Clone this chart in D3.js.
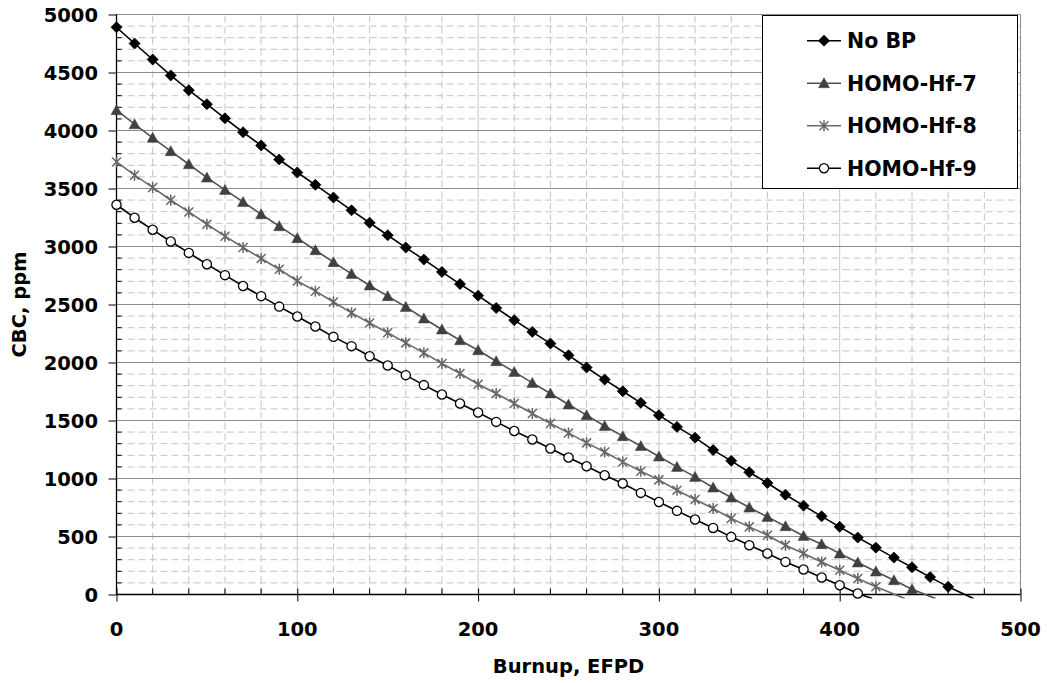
<!DOCTYPE html>
<html>
<head>
<meta charset="utf-8">
<script src="https://cdn.jsdelivr.net/npm/d3@7"></script>
<style>
  html, body { margin: 0; padding: 0; background: #ffffff; }
  svg { display: block; }
  text { font-family: "DejaVu Sans", Verdana, sans-serif; font-weight: bold; fill: #000; }
</style>
</head>
<body>
<svg id="chart" width="1047" height="683"></svg>
<script>
// Burnup steps (EFPD) at which CBC was computed
const burnup = [0, 10, 20, 30, 40, 50, 60, 70, 80, 90, 100, 110, 120, 130, 140, 150, 160, 170, 180, 190,
  200, 210, 220, 230, 240, 250, 260, 270, 280, 290, 300, 310, 320, 330, 340, 350, 360, 370, 380, 390,
  400, 410, 420, 430, 440, 450, 460];

// Critical boron concentration (ppm) for each core configuration
const noBP = [4890, 4750, 4612, 4475, 4347, 4227, 4105, 3985, 3871, 3750, 3638, 3532, 3422, 3312, 3205,
  3097, 2991, 2887, 2781, 2676, 2576, 2470, 2365, 2264, 2163, 2062, 1957, 1853, 1752, 1652, 1546, 1445,
  1352, 1245, 1152, 1054, 961, 860, 766, 674, 583, 491, 404, 318, 235, 150, 66];
const hf7 = [4175, 4054, 3937, 3822, 3709, 3594, 3488, 3384, 3278, 3175, 3072, 2968, 2865, 2764, 2664,
  2572, 2479, 2379, 2284, 2192, 2106, 2011, 1919, 1824, 1733, 1638, 1546, 1453, 1365, 1280, 1190, 1100,
  1014, 922, 836, 750, 669, 589, 505, 434, 353, 276, 198, 123, 46];
const hf8 = [3729, 3615, 3509, 3399, 3298, 3192, 3089, 2991, 2897, 2804, 2703, 2615, 2522, 2428, 2341,
  2257, 2169, 2083, 1991, 1905, 1813, 1733, 1647, 1560, 1474, 1393, 1307, 1229, 1143, 1062, 988, 899,
  819, 741, 655, 583, 511, 425, 353, 281, 209, 138, 66];
const hf9 = [3360, 3248, 3144, 3043, 2945, 2847, 2753, 2660, 2572, 2482, 2396, 2310, 2221, 2141, 2054,
  1974, 1891, 1805, 1724, 1647, 1569, 1488, 1410, 1336, 1259, 1181, 1106, 1028, 957, 876, 798, 721,
  647, 574, 497, 425, 353, 281, 216, 147, 80, 8];

// Where each curve runs out past the zero line
const tails = [[474, -35], [453, -35], [436, -35], [418, -35]];

const seriesNames = ["No BP", "HOMO-Hf-7", "HOMO-Hf-8", "HOMO-Hf-9"];
const xTicks = [0, 100, 200, 300, 400, 500];
const yTicks = [0, 500, 1000, 1500, 2000, 2500, 3000, 3500, 4000, 4500, 5000];

const styles = [
  { line: "#000000", marker: "diamond", fill: "#000000", stroke: "#000000" },
  { line: "#505050", marker: "triangle", fill: "#404040", stroke: "#404040" },
  { line: "#6a6a6a", marker: "star", fill: "none", stroke: "#666666" },
  { line: "#000000", marker: "circle", fill: "#ffffff", stroke: "#000000" }
];
const values = [noBP, hf7, hf8, hf9];

const svg = d3.select("#chart");
const x = d3.scaleLinear().domain([0, 500]).range([116.5, 1020.5]);
const y = d3.scaleLinear().domain([0, 5000]).range([594.5, 14.5]);
const [x0, x1] = x.range();
const [y0, y1] = y.range();

// Minor grid (dashed)
const grid = svg.append("g");
grid.selectAll("line.hminor")
  .data(d3.range(100, 5000, 100).filter(v => v % 500 !== 0))
  .join("line")
  .attr("x1", x0).attr("x2", x1)
  .attr("y1", d => y(d)).attr("y2", d => y(d))
  .attr("stroke", "#c4c4c4").attr("stroke-width", 1).attr("stroke-dasharray", "7,4");
grid.selectAll("line.vminor")
  .data(d3.range(20, 500, 20).filter(v => v % 100 !== 0))
  .join("line")
  .attr("x1", d => x(d)).attr("x2", d => x(d))
  .attr("y1", y0).attr("y2", y1)
  .attr("stroke", "#c4c4c4").attr("stroke-width", 1).attr("stroke-dasharray", "7,4");
// Major grid
grid.selectAll("line.vmajor")
  .data(xTicks.slice(1))
  .join("line")
  .attr("x1", d => x(d)).attr("x2", d => x(d))
  .attr("y1", y0).attr("y2", y1)
  .attr("stroke", d => d === 500 ? "#8c8c8c" : "#c8c8c8").attr("stroke-width", 1);
grid.selectAll("line.hmajor")
  .data(yTicks.slice(1))
  .join("line")
  .attr("x1", x0).attr("x2", x1)
  .attr("y1", d => y(d)).attr("y2", d => y(d))
  .attr("stroke", "#8c8c8c").attr("stroke-width", 1);

// Axes
const xAxis = d3.axisBottom(x).tickValues(xTicks).tickSize(7).tickPadding(0);
const gx = svg.append("g").attr("transform", `translate(0,${y0})`).call(xAxis);
gx.select(".domain").remove();
gx.selectAll(".tick line").attr("y1", -6).attr("y2", 7).attr("stroke", "#000");
gx.selectAll(".tick text").remove();
gx.append("g").selectAll("line")
  .data(d3.range(20, 500, 20).filter(v => v % 100 !== 0))
  .join("line")
  .attr("x1", d => x(d)).attr("x2", d => x(d))
  .attr("y1", 0).attr("y2", -6).attr("stroke", "#000");

const yAxis = d3.axisLeft(y).tickValues(yTicks).tickSize(8).tickPadding(0);
const gy = svg.append("g").attr("transform", `translate(${x0},0)`).call(yAxis);
gy.select(".domain").remove();
gy.selectAll(".tick line").attr("x1", -8).attr("x2", 0).attr("stroke", "#000");
gy.selectAll(".tick text").remove();
gy.append("g").selectAll("line")
  .data(d3.range(100, 5000, 100).filter(v => v % 500 !== 0))
  .join("line")
  .attr("x1", 0).attr("x2", 5)
  .attr("y1", d => y(d)).attr("y2", d => y(d)).attr("stroke", "#000");

// Axis lines
svg.append("line").attr("x1", x0).attr("x2", x0).attr("y1", y1).attr("y2", y0)
  .attr("stroke", "#000").attr("stroke-width", 1.3);
svg.append("line").attr("x1", x0).attr("x2", x1).attr("y1", y0).attr("y2", y0)
  .attr("stroke", "#000").attr("stroke-width", 1.3);

// Tick labels
svg.append("g").selectAll("text")
  .data(yTicks).join("text")
  .attr("x", 98).attr("y", d => y(d)).attr("dy", "0.36em")
  .attr("text-anchor", "end").attr("font-size", 19.5)
  .text(d => d);
svg.append("g").selectAll("text")
  .data(xTicks).join("text")
  .attr("x", d => x(d)).attr("y", 636)
  .attr("text-anchor", "middle").attr("font-size", 19.5)
  .text(d => d);

// Axis titles
svg.append("text").attr("x", (x0 + x1) / 2).attr("y", 673)
  .attr("text-anchor", "middle").attr("font-size", 19.5).text("Burnup, EFPD");
svg.append("text").attr("transform", `translate(26,${(y0 + y1) / 2}) rotate(-90)`)
  .attr("text-anchor", "middle").attr("font-size", 19.5).text("CBC, ppm");

// Marker drawing
function drawMarker(sel, type, st) {
  if (type === "diamond") {
    sel.append("path").attr("d", "M0,-5.5L5.5,0L0,5.5L-5.5,0Z")
      .attr("fill", st.fill).attr("stroke", st.stroke).attr("stroke-width", 0.8);
  } else if (type === "triangle") {
    sel.append("path").attr("d", "M0,-5.5L5.5,4.5L-5.5,4.5Z")
      .attr("fill", st.fill).attr("stroke", st.stroke).attr("stroke-width", 0.5);
  } else if (type === "star") {
    sel.append("path").attr("d", "M0,-5.5V5.5M-4.5,-4.5L4.5,4.5M-4.5,4.5L4.5,-4.5")
      .attr("fill", "none").attr("stroke", st.stroke).attr("stroke-width", 1.5);
  } else {
    sel.append("circle").attr("r", 4.6)
      .attr("fill", st.fill).attr("stroke", st.stroke).attr("stroke-width", 1.3);
  }
}

// Series
svg.append("clipPath").attr("id", "plotclip")
  .append("rect").attr("x", x0).attr("y", y1 - 2).attr("width", x1 - x0).attr("height", y0 - y1 + 6);

const line = d3.line().x(d => x(d[0])).y(d => y(d[1]));
values.forEach((vals, i) => {
  const pts = vals.map((v, k) => [burnup[k], v]);
  const g = svg.append("g");
  g.append("path").datum(pts.concat([tails[i]]))
    .attr("d", line).attr("fill", "none")
    .attr("stroke", styles[i].line).attr("stroke-width", 1.6)
    .attr("clip-path", "url(#plotclip)");
  g.selectAll("g.m").data(pts).join("g")
    .attr("transform", d => `translate(${x(d[0])},${y(d[1])})`)
    .each(function () { drawMarker(d3.select(this), styles[i].marker, styles[i]); });
});

// Legend
const lg = svg.append("g");
lg.append("rect").attr("x", 762.5).attr("y", 15.5).attr("width", 255).attr("height", 173)
  .attr("fill", "#fff").attr("stroke", "#000").attr("stroke-width", 1);
seriesNames.forEach((name, i) => {
  const cy = 40.7 + i * 42.5;
  lg.append("line").attr("x1", 807).attr("x2", 841).attr("y1", cy).attr("y2", cy)
    .attr("stroke", styles[i].line).attr("stroke-width", 1.6);
  const m = lg.append("g").attr("transform", `translate(824,${cy})`);
  drawMarker(m, styles[i].marker, styles[i]);
  lg.append("text").attr("x", 847).attr("y", cy).attr("dy", "0.36em")
    .attr("font-size", 20.5).text(name);
});
</script>
</body>
</html>
